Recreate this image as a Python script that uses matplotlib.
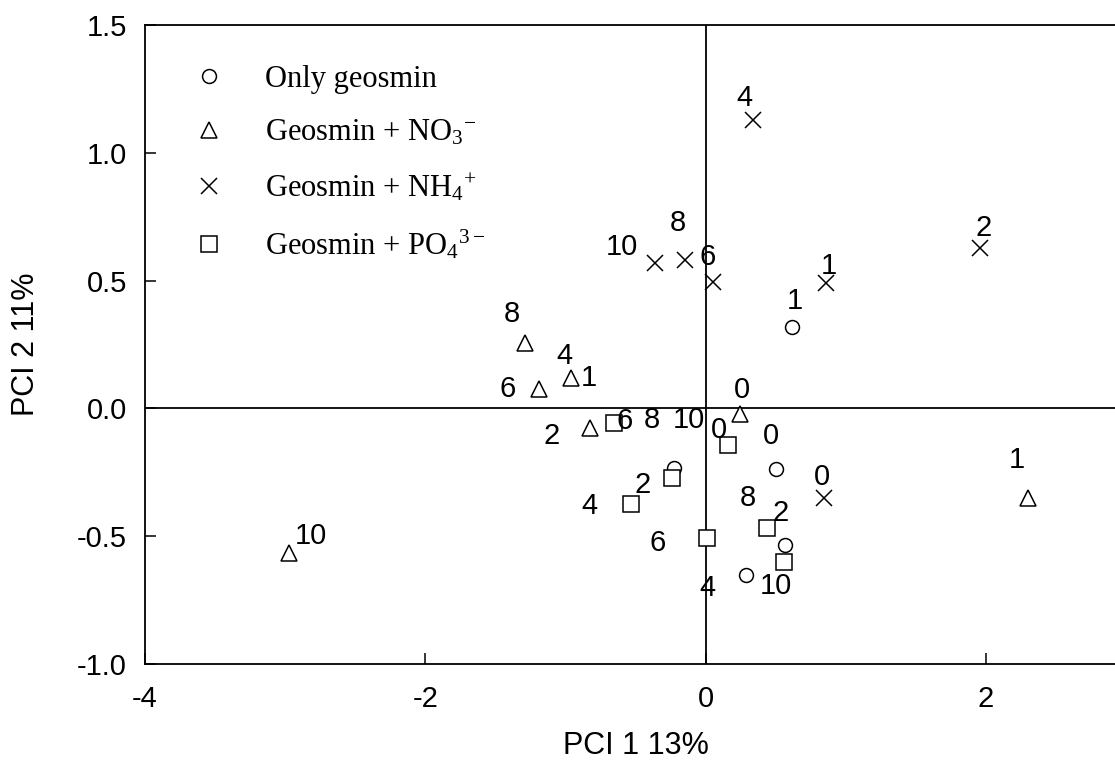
import matplotlib
matplotlib.use("Agg")
import matplotlib.pyplot as plt

plt.rcParams["font.family"] = ["Liberation Sans", "DejaVu Sans"]
plt.rcParams["mathtext.fontset"] = "custom"
plt.rcParams["mathtext.rm"] = "Liberation Serif"
plt.rcParams["mathtext.it"] = "Liberation Serif:italic"

# PCA scores; labels are sampling days
geo_x = [0.62, 0.50, -0.224, 0.564, 0.289]
geo_y = [0.32, -0.238, -0.234, -0.534, -0.652]
geo_lab = ["1", "0", "", "2", "4"]
geo_off = [(2, 26), (-5, 33), (0, 0), (-4, 32), (-39, -13)]

no3_x = [0.246, 2.304, -0.825, -0.96, -1.19, -1.287, -2.975]
no3_y = [-0.023, -0.352, -0.075, 0.118, 0.075, 0.257, -0.566]
no3_lab = ["0", "1", "2", "4", "6", "8", "10"]
no3_off = [(2, 24), (-12, 38), (-38, -8), (-7, 22), (-31, 0), (-13, 29), (22, 17)]

nh4_x = [0.844, 0.856, 1.955, 0.337, 0.056, -0.146, -0.362]
nh4_y = [-0.349, 0.489, 0.626, 1.128, 0.496, 0.581, 0.568]
nh4_lab = ["0", "1", "2", "4", "6", "8", "10"]
nh4_off = [(-2, 21), (3, 17), (4, 20), (-8, 22), (-6, 25), (-7, 37), (-33, 16)]

po4_x = [0.163, -0.236, -0.533, -0.65, 0.009, 0.436, 0.559]
po4_y = [-0.143, -0.273, -0.375, -0.058, -0.508, -0.467, -0.602]
po4_lab = ["0", "2", "4", "6", "6", "8", "10"]
po4_off = [(-9, 15), (-30, -7), (-41, -2), (10, 2), (-49, -5), (-19, 30), (-8, -24)]

# stray labels in the original, tied to a point: (series, index, text, offset)
extra = [("no3", 3, "1", (18, 0)),
         ("po4", 3, "8", (37, 3)),
         ("po4", 3, "10", (74, 3))]

series = {
    "geo": (geo_x, geo_y, geo_lab, geo_off, "o", 10, "Only geosmin"),
    "no3": (no3_x, no3_y, no3_lab, no3_off, "^", 12, "Geosmin + NO$_3$$^{-}$"),
    "nh4": (nh4_x, nh4_y, nh4_lab, nh4_off, "x", 11, "Geosmin + NH$_4$$^{+}$"),
    "po4": (po4_x, po4_y, po4_lab, po4_off, "s", 11, "Geosmin + PO$_4$$^{3-}$"),
}

fig = plt.figure(figsize=(11.15, 7.66), dpi=100)
ax = fig.add_axes([0.130, 0.1332, 0.8799, 0.8342])

ax.axhline(0, color="black", lw=1.3, zorder=1)
ax.axvline(0, color="black", lw=1.3, zorder=1)

for key, (xs, ys, labs, offs, mk, ms, name) in series.items():
    ax.plot(xs, ys, ls="none", marker=mk, ms=ms, mfc="white" if mk != "x" else "black",
            mec="black", mew=1.1, color="black", label=name, zorder=3)
    for x, y, t, o in zip(xs, ys, labs, offs):
        if t:
            ax.annotate(t, (x, y), xytext=o, textcoords="offset pixels",
                        ha="center", va="center", fontsize=21, zorder=4)

for key, i, t, o in extra:
    xs, ys = series[key][0], series[key][1]
    ax.annotate(t, (xs[i], ys[i]), xytext=o, textcoords="offset pixels",
                ha="center", va="center", fontsize=21, zorder=4)

ax.set_xlim(-4, 3)
ax.set_ylim(-1.0, 1.5)
ax.set_xticks([-4, -2, 0, 2])
ax.set_xticklabels(["-4", "-2", "0", "2"])
ax.set_yticks([-1.0, -0.5, 0.0, 0.5, 1.0, 1.5])
ax.set_yticklabels(["-1.0", "-0.5", "0.0", "0.5", "1.0", "1.5"])
ax.tick_params(direction="in", length=8, width=1.1, labelsize=21)
ax.tick_params(axis="y", pad=13)
ax.tick_params(axis="x", pad=15)
for s in ax.spines.values():
    s.set_linewidth(1.3)

ax.set_xlabel("PCI 1 13%", fontsize=22, labelpad=13)
ax.set_ylabel("PCI 2 11%", fontsize=22, labelpad=26)

leg = ax.legend(loc="upper left", bbox_to_anchor=(0.034, 0.938), frameon=False,
                prop={"family": "Liberation Serif", "size": 22},
                labelspacing=0.8, handlelength=2.0, handletextpad=0.85,
                borderpad=0, borderaxespad=0)

fig.savefig("out.png", dpi=100)
